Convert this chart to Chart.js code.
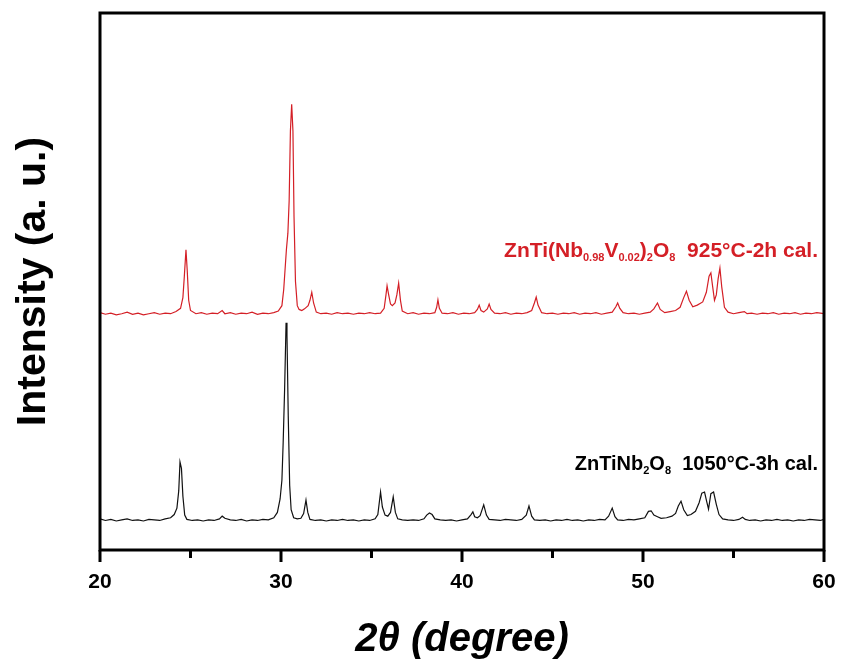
<!DOCTYPE html>
<html>
<head>
<meta charset="utf-8">
<script src="https://cdn.jsdelivr.net/npm/chart.js@4"></script>
<style>
  html, body { margin: 0; padding: 0; background: #fff; }
</style>
</head>
<body>
<canvas id="xrdChart" width="850" height="666"></canvas>
<script>
// 2theta / intensity pairs (arbitrary units, 0-100 frame)
const blackTheta = [20.0, 20.3, 20.6, 20.9, 21.2, 21.5, 21.8, 22.1, 22.4, 22.7, 23.0, 23.3, 23.6, 23.9, 24.1, 24.25, 24.35, 24.42, 24.5, 24.58, 24.68, 24.8, 25.1, 25.4, 25.7, 26.0, 26.3, 26.6, 26.75, 26.9, 27.2, 27.5, 27.8, 28.1, 28.4, 28.7, 29.0, 29.3, 29.6, 29.8, 29.95, 30.05, 30.12, 30.2, 30.28, 30.33, 30.4, 30.48, 30.56, 30.7, 30.9, 31.1, 31.25, 31.38, 31.48, 31.6, 31.9, 32.2, 32.5, 32.8, 33.1, 33.4, 33.7, 34.0, 34.3, 34.6, 34.9, 35.2, 35.35, 35.5, 35.6, 35.75, 35.9, 36.05, 36.2, 36.32, 36.45, 36.7, 37.0, 37.3, 37.6, 37.9, 38.05, 38.2, 38.35, 38.5, 38.8, 39.1, 39.4, 39.7, 40.0, 40.3, 40.5, 40.6, 40.7, 40.85, 41.0, 41.2, 41.35, 41.5, 41.8, 42.1, 42.4, 42.7, 43.0, 43.3, 43.55, 43.7, 43.85, 44.0, 44.3, 44.6, 44.9, 45.2, 45.5, 45.8, 46.1, 46.4, 46.7, 47.0, 47.3, 47.6, 47.9, 48.1, 48.3, 48.45, 48.6, 48.9, 49.2, 49.5, 49.8, 50.1, 50.3, 50.45, 50.6, 50.8, 51.0, 51.3, 51.6, 51.8, 51.95, 52.1, 52.25, 52.45, 52.65, 52.9, 53.1, 53.25, 53.4, 53.52, 53.62, 53.75, 53.9, 54.05, 54.2, 54.4, 54.7, 55.0, 55.3, 55.5, 55.65, 55.9, 56.2, 56.5, 56.8, 57.1, 57.4, 57.7, 58.0, 58.3, 58.6, 58.9, 59.2, 59.5, 59.8, 60.0];
const blackCounts = [5.8, 5.5, 5.7, 5.4, 5.6, 5.8, 5.5, 5.6, 5.4, 5.7, 5.6, 5.5, 5.8, 6.0, 6.6, 7.8, 11.0, 16.4, 15.2, 10.0, 6.5, 5.7, 5.5, 5.6, 5.4, 5.6, 5.5, 5.8, 6.3, 5.9, 5.6, 5.5, 5.7, 5.4, 5.6, 5.5, 5.7, 5.6, 6.0, 7.0, 9.5, 13.0, 20.0, 30.0, 42.3, 40.0, 25.0, 12.0, 7.5, 6.0, 5.8, 5.9, 6.8, 9.3, 7.0, 5.7, 5.5, 5.6, 5.4, 5.6, 5.5, 5.7, 5.5, 5.6, 5.4, 5.6, 5.5, 5.8, 6.6, 10.8, 8.0, 6.5, 6.3, 7.0, 9.9, 7.0, 5.8, 5.6, 5.5, 5.6, 5.5, 5.8, 6.5, 6.9, 6.6, 5.8, 5.6, 5.5, 5.6, 5.4, 5.6, 5.8, 6.6, 7.1, 6.2, 6.0, 6.4, 8.4, 6.5, 5.7, 5.6, 5.5, 5.7, 5.6, 5.5, 5.7, 6.5, 8.2, 6.3, 5.6, 5.5, 5.6, 5.4, 5.6, 5.5, 5.7, 5.5, 5.6, 5.4, 5.6, 5.5, 5.7, 5.6, 6.3, 7.8, 6.2, 5.6, 5.5, 5.7, 5.6, 5.8, 6.0, 7.2, 7.3, 6.5, 6.2, 5.9, 6.0, 6.3, 6.8, 8.2, 9.1, 7.5, 6.4, 6.6, 7.2, 8.8, 10.6, 10.8, 9.0, 7.6, 10.5, 10.8, 8.5, 6.6, 5.8, 5.6, 5.5, 5.7, 6.1, 5.7, 5.5, 5.6, 5.4, 5.6, 5.5, 5.7, 5.5, 5.6, 5.4, 5.6, 5.5, 5.7, 5.6, 5.5, 5.7];

const redTheta = [20.0, 20.3, 20.6, 20.9, 21.2, 21.5, 21.8, 22.1, 22.4, 22.7, 23.0, 23.3, 23.6, 23.9, 24.2, 24.45, 24.58, 24.66, 24.75, 24.82, 24.9, 25.0, 25.3, 25.6, 25.9, 26.2, 26.5, 26.75, 26.9, 27.2, 27.5, 27.8, 28.1, 28.4, 28.7, 29.0, 29.3, 29.6, 29.85, 30.05, 30.15, 30.3, 30.38, 30.45, 30.52, 30.59, 30.66, 30.72, 30.8, 30.9, 31.0, 31.15, 31.3, 31.5, 31.6, 31.7, 31.8, 31.95, 32.2, 32.5, 32.8, 33.1, 33.4, 33.7, 34.0, 34.3, 34.6, 34.9, 35.2, 35.5, 35.7, 35.8, 35.86, 35.95, 36.05, 36.15, 36.3, 36.4, 36.5, 36.6, 36.7, 37.0, 37.3, 37.6, 37.9, 38.2, 38.5, 38.6, 38.67, 38.75, 38.9, 39.2, 39.5, 39.8, 40.1, 40.4, 40.7, 40.85, 40.95, 41.05, 41.2, 41.4, 41.5, 41.6, 41.8, 42.1, 42.4, 42.7, 43.0, 43.3, 43.6, 43.85, 44.0, 44.1, 44.2, 44.4, 44.7, 45.0, 45.3, 45.6, 45.9, 46.2, 46.5, 46.8, 47.1, 47.4, 47.7, 48.0, 48.3, 48.5, 48.6, 48.72, 48.9, 49.2, 49.5, 49.8, 50.1, 50.4, 50.6, 50.8, 50.95, 51.2, 51.5, 51.8, 52.05, 52.25, 52.4, 52.55, 52.75, 53.0, 53.3, 53.5, 53.65, 53.75, 53.85, 53.95, 54.05, 54.15, 54.25, 54.35, 54.5, 54.7, 55.0, 55.3, 55.6, 55.75, 56.0, 56.3, 56.6, 56.9, 57.2, 57.5, 57.8, 58.1, 58.4, 58.7, 59.0, 59.3, 59.6, 60.0];
const redCounts = [44.2, 43.9, 44.1, 43.8, 44.0, 44.3, 43.9, 44.1, 43.8, 44.0, 44.2, 43.9, 44.1, 44.0, 44.4, 45.0, 47.0, 51.0, 55.9, 52.0, 46.5, 44.6, 44.0, 44.2, 43.9, 44.1, 44.0, 44.6, 44.0, 44.2, 43.9, 44.1, 44.0, 44.3, 43.9, 44.1, 44.0, 44.2, 44.5, 45.5, 48.5, 56.0, 59.0, 65.0, 78.0, 83.0, 78.0, 62.0, 50.0, 45.5, 44.8, 44.6, 44.9, 45.5, 46.5, 48.0, 46.0, 44.3, 44.0, 44.1, 43.9, 44.2, 44.0, 44.1, 43.9, 44.1, 44.0, 44.2, 44.0, 44.1, 45.0, 47.5, 49.2, 47.5, 45.8, 45.5, 46.0, 47.5, 49.7, 46.5, 44.5, 44.0, 44.2, 43.9, 44.1, 44.0, 44.2, 45.2, 46.6, 45.0, 44.1, 44.0, 44.2, 43.9, 44.1, 44.0, 44.2, 44.8, 45.6, 44.6, 44.3, 44.9, 45.8, 44.8, 44.1, 44.0, 44.2, 43.9, 44.1, 44.0, 44.2, 44.6, 46.0, 47.1, 45.6, 44.2, 44.0, 44.1, 43.9, 44.1, 44.0, 44.2, 43.9, 44.1, 44.0, 44.2, 43.9, 44.1, 44.3, 45.3, 46.0, 45.0, 44.2, 44.0, 44.1, 43.9, 44.1, 44.3, 44.9, 46.0, 44.8, 44.2, 44.4, 44.6, 45.2, 47.0, 48.2, 46.5, 45.3, 45.6, 46.2, 48.0, 51.0, 51.6, 49.0, 46.5, 47.5, 50.5, 52.5, 49.0, 45.2, 44.3, 44.0, 44.2, 44.4, 44.0, 44.1, 43.9, 44.1, 44.0, 44.2, 43.9, 44.1, 44.0, 44.2, 43.9, 44.1, 44.0, 44.2, 44.0];

const xTickValues = [20, 25, 30, 35, 40, 45, 50, 55, 60];

const toPoints = (xs, ys) => xs.map((x, i) => ({ x: x, y: ys[i] }));

// frame, tick marks and the two sample labels
const decorations = {
  id: 'decorations',
  afterDraw(chart) {
    const c = chart.ctx;
    const area = chart.chartArea;
    const xs = chart.scales.x;
    c.save();
    c.strokeStyle = '#000';
    c.lineWidth = 3;
    c.strokeRect(area.left, area.top, area.right - area.left, area.bottom - area.top);
    xTickValues.forEach(v => {
      const px = xs.getPixelForValue(v);
      const len = v % 10 === 0 ? 12 : 8;
      c.beginPath();
      c.moveTo(px, area.bottom);
      c.lineTo(px, area.bottom + len);
      c.stroke();
    });

    const drawRich = (parts, right, base, color, size) => {
      c.fillStyle = color;
      c.textBaseline = 'alphabetic';
      c.textAlign = 'left';
      const fontFor = (p) => p.sub ? 'bold 11px "Liberation Sans", Arial' : 'bold ' + size + 'px "Liberation Sans", Arial';
      let w = 0;
      parts.forEach(p => {
        c.font = fontFor(p);
        w += c.measureText(p.t).width;
      });
      let x = right - w;
      parts.forEach(p => {
        c.font = fontFor(p);
        c.fillText(p.t, x, base + (p.sub ? 4 : 0));
        x += c.measureText(p.t).width;
      });
    };

    drawRich([
      { t: 'ZnTi(Nb' }, { t: '0.98', sub: true }, { t: 'V' }, { t: '0.02', sub: true },
      { t: ')' }, { t: '2', sub: true }, { t: 'O' }, { t: '8', sub: true },
      { t: '  925°C-2h cal.' }
    ], 818, 257, '#d41f26', 21);
    drawRich([
      { t: 'ZnTiNb' }, { t: '2', sub: true }, { t: 'O' }, { t: '8', sub: true },
      { t: '  1050°C-3h cal.' }
    ], 818, 470, '#000', 20);
    c.restore();
  }
};

new Chart(document.getElementById('xrdChart'), {
  type: 'scatter',
  data: {
    datasets: [
      {
        label: 'ZnTi(Nb0.98V0.02)2O8 925°C-2h cal.',
        data: toPoints(redTheta, redCounts),
        showLine: true,
        borderColor: '#d41f26',
        borderWidth: 1.2,
        pointRadius: 0,
        tension: 0,
      },
      {
        label: 'ZnTiNb2O8 1050°C-3h cal.',
        data: toPoints(blackTheta, blackCounts),
        showLine: true,
        borderColor: '#111',
        borderWidth: 1.2,
        pointRadius: 0,
        tension: 0,
      },
    ],
  },
  options: {
    responsive: false,
    animation: false,
    layout: { padding: { top: 13, right: 26, left: 0, bottom: 0 } },
    plugins: {
      legend: { display: false },
      tooltip: { enabled: false },
    },
    scales: {
      x: {
        type: 'linear',
        min: 20,
        max: 60,
        afterFit: (s) => { s.height = 116; s.paddingLeft = 0; s.paddingRight = 0; },
        afterBuildTicks: (s) => { s.ticks = [20, 30, 40, 50, 60].map(v => ({ value: v })); },
        grid: { display: false },
        border: { display: false },
        ticks: {
          color: '#000',
          padding: 12,
          font: { family: '"Liberation Sans", Arial', size: 21, weight: 'bold' },
        },
        title: {
          display: true,
          text: '2θ (degree)',
          color: '#000',
          padding: { top: 0, bottom: 2 },
          font: { family: '"Liberation Sans", Arial', size: 40, weight: 'bold', style: 'italic' },
        },
      },
      y: {
        min: 0,
        max: 100,
        afterFit: (s) => { s.width = 100; s.paddingTop = 0; s.paddingBottom = 0; },
        grid: { display: false },
        border: { display: false },
        ticks: { display: false },
        title: {
          display: true,
          text: 'Intensity (a. u.)',
          color: '#000',
          padding: { top: 9, bottom: 0 },
          font: { family: '"Liberation Sans", Arial', size: 41, weight: 'bold' },
        },
      },
    },
  },
  plugins: [decorations],
});
</script>
</body>
</html>
